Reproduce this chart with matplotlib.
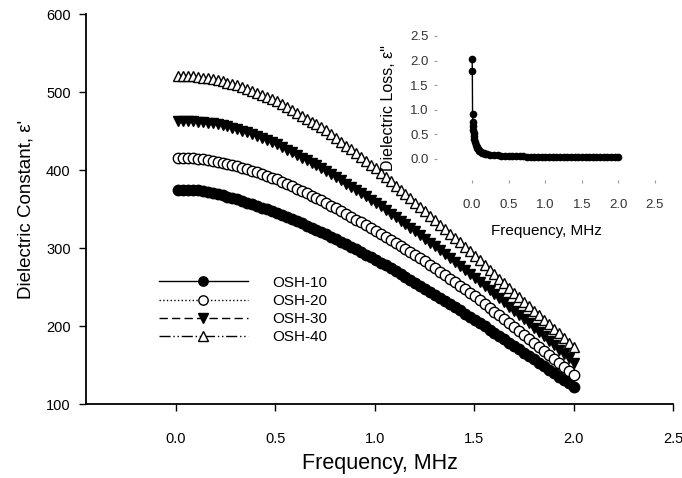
import numpy as np
import matplotlib
matplotlib.use('Agg')
import matplotlib.pyplot as plt

plt.rcParams['font.family'] = ['Liberation Sans', 'DejaVu Sans']

# ------- main plot data (frequency in MHz, dielectric constant) -------
freq = np.linspace(0.01, 2.0, 81)

osh10 = [375.0, 375.0, 374.8, 374.4, 373.8, 373.0, 372.0, 370.8, 369.4, 367.8, 366.0,
         364.2, 362.3, 360.3, 358.3, 356.2, 354.1, 351.9, 349.6, 347.3, 345.0,
         342.3, 339.6, 336.9, 334.2, 331.5, 328.8, 326.1, 323.4, 320.7, 318.0,
         314.7, 311.4, 308.1, 304.8, 301.5, 298.2, 294.9, 291.6, 288.3, 285.0,
         281.3, 277.6, 273.9, 270.2, 266.5, 262.8, 259.1, 255.4, 251.7, 248.0,
         244.0, 240.0, 236.0, 232.0, 228.0, 224.0, 220.0, 216.0, 212.0, 208.0,
         203.8, 199.6, 195.4, 191.2, 187.0, 182.8, 178.6, 174.4, 170.2, 166.0,
         161.6, 157.2, 152.8, 148.4, 144.0, 139.6, 135.2, 130.8, 126.4, 122.0]

osh20 = [416.0, 415.9, 415.6, 415.2, 414.6, 413.8, 412.8, 411.7, 410.5, 409.3, 408.0,
         406.5, 404.8, 403.0, 401.1, 399.1, 397.0, 394.8, 392.6, 390.3, 388.0,
         385.0, 382.0, 379.0, 376.0, 373.0, 370.0, 367.0, 364.0, 361.0, 358.0,
         354.4, 350.8, 347.2, 343.6, 340.0, 336.4, 332.8, 329.2, 325.6, 322.0,
         318.1, 314.2, 310.3, 306.4, 302.5, 298.6, 294.7, 290.8, 286.9, 283.0,
         278.5, 274.0, 269.5, 265.0, 260.5, 256.0, 251.5, 247.0, 242.5, 238.0,
         233.1, 228.2, 223.3, 218.4, 213.5, 208.6, 203.7, 198.8, 193.9, 189.0,
         183.8, 178.6, 173.4, 168.2, 163.0, 157.8, 152.6, 147.4, 142.2, 137.0]

osh30 = [463.0, 462.9, 462.7, 462.4, 462.0, 461.4, 460.6, 459.7, 458.6, 457.4, 456.0,
         454.4, 452.6, 450.6, 448.5, 446.2, 443.8, 441.3, 438.6, 435.8, 433.0,
         429.6, 426.2, 422.8, 419.4, 416.0, 412.6, 409.2, 405.8, 402.4, 399.0,
         394.9, 390.8, 386.7, 382.6, 378.5, 374.4, 370.3, 366.2, 362.1, 358.0,
         353.4, 348.8, 344.2, 339.6, 335.0, 330.4, 325.8, 321.2, 316.6, 312.0,
         307.0, 302.0, 297.0, 292.0, 287.0, 282.0, 277.0, 272.0, 267.0, 262.0,
         256.7, 251.4, 246.1, 240.8, 235.5, 230.2, 224.9, 219.6, 214.3, 209.0,
         203.4, 197.8, 192.2, 186.6, 181.0, 175.4, 169.8, 164.2, 158.6, 153.0]

osh40 = [521.0, 520.8, 520.4, 519.9, 519.2, 518.4, 517.4, 516.2, 514.9, 513.5, 512.0,
         510.3, 508.4, 506.3, 504.1, 501.7, 499.2, 496.5, 493.7, 490.9, 488.0,
         484.3, 480.6, 476.9, 473.2, 469.5, 465.8, 462.1, 458.4, 454.7, 451.0,
         446.1, 441.2, 436.3, 431.4, 426.5, 421.6, 416.7, 411.8, 406.9, 402.0,
         396.5, 391.0, 385.5, 380.0, 374.5, 369.0, 363.5, 358.0, 352.5, 347.0,
         341.3, 335.6, 329.9, 324.2, 318.5, 312.8, 307.1, 301.4, 295.7, 290.0,
         284.1, 278.2, 272.3, 266.4, 260.5, 254.6, 248.7, 242.8, 236.9, 231.0,
         225.2, 219.4, 213.6, 207.8, 202.0, 196.2, 190.4, 184.6, 178.8, 173.0]

labels = ['OSH-10', 'OSH-20', 'OSH-30', 'OSH-40']

# ------- inset data (dielectric loss) -------
loss_freq = [0.0, 0.003, 0.006, 0.009, 0.012, 0.015, 0.02, 0.025, 0.03, 0.04, 0.05,
             0.06, 0.07, 0.08, 0.09, 0.10, 0.12, 0.14, 0.16, 0.18, 0.20, 0.25,
             0.30, 0.35, 0.40, 0.45, 0.50, 0.55, 0.60, 0.65, 0.70, 0.75, 0.80,
             0.85, 0.90, 0.95, 1.00, 1.05, 1.10, 1.15, 1.20, 1.25, 1.30, 1.35,
             1.40, 1.45, 1.50, 1.55, 1.60, 1.65, 1.70, 1.75, 1.80, 1.85, 1.90,
             1.95, 2.00]
loss = [2.03, 1.78, 0.92, 0.75, 0.66, 0.59, 0.52, 0.46, 0.41, 0.34, 0.29,
        0.25, 0.22, 0.20, 0.18, 0.165, 0.14, 0.125, 0.11, 0.10, 0.095, 0.085,
        0.075, 0.07, 0.065, 0.06, 0.058, 0.055, 0.053, 0.051, 0.05, 0.048, 0.047,
        0.046, 0.045, 0.044, 0.043, 0.042, 0.041, 0.040, 0.039, 0.038, 0.037, 0.037,
        0.036, 0.035, 0.035, 0.034, 0.034, 0.033, 0.033, 0.032, 0.032, 0.031, 0.031,
        0.030, 0.030]

W, H = 682, 478
fig = plt.figure(figsize=(W / 100, H / 100), dpi=100)

# ------- main axes -------
ax = fig.add_axes([86 / W, 1 - 404 / H, (673 - 86) / W, (404 - 14) / H])
styles = [
    dict(ls='-', marker='o', mfc='black'),
    dict(ls=':', marker='o', mfc='white'),
    dict(ls=(0, (6, 3)), marker='v', mfc='black'),
    dict(ls=(0, (8, 2, 1, 2, 1, 2)), marker='^', mfc='white'),
]
series = [osh10, osh20, osh30, osh40]
for y, lab, st in zip(series, labels, styles):
    ax.plot(freq, y, color='black', lw=1, ms=7.5, mec='black', mew=1.0,
            label=lab, **st)

ax.set_xlim(-0.453, 2.5)
ax.set_ylim(100, 600)
ax.set_xticks([0.0, 0.5, 1.0, 1.5, 2.0, 2.5])
ax.set_xticklabels(['0.0', '0.5', '1.0', '1.5', '2.0', '2.5'])
ax.set_yticks([100, 200, 300, 400, 500, 600])
ax.spines['top'].set_visible(False)
ax.spines['right'].set_visible(False)
ax.spines['left'].set_linewidth(1.3)
ax.spines['bottom'].set_linewidth(1.3)
ax.tick_params(axis='x', direction='out', length=5, width=1, labelsize=10.5, pad=15)
ax.tick_params(axis='y', direction='out', length=5, width=1, labelsize=10.5, pad=6)
ax.set_xlabel('Frequency, MHz', fontsize=15.5, labelpad=5)
ax.set_ylabel("Dielectric Constant, ε'", fontsize=13.5, labelpad=8)

ax.legend(loc='center left', bbox_to_anchor=(159 / W, 1 - 310 / H),
          bbox_transform=fig.transFigure, frameon=False, fontsize=11,
          handlelength=5.8, handletextpad=1.6, labelspacing=0.28,
          borderpad=0, borderaxespad=0, markerscale=0.9)

# ------- inset -------
ins = fig.add_axes([437 / W, 1 - 180 / H, (655 - 437) / W, (180 - 36) / H])
ins.plot(loss_freq, loss, color='black', lw=1, marker='o', ms=4.5,
         mfc='black', mec='black')
ins.set_xlim(-0.48, 2.5)
ins.set_ylim(-0.43, 2.5)
ins.set_xticks([0.0, 0.5, 1.0, 1.5, 2.0, 2.5])
ins.set_xticklabels(['0.0', '0.5', '1.0', '1.5', '2.0', '2.5'])
ins.set_yticks([0.0, 0.5, 1.0, 1.5, 2.0, 2.5])
ins.set_yticklabels(['0.0', '0.5', '1.0', '1.5', '2.0', '2.5'])
for s in ins.spines.values():
    s.set_visible(False)
ins.patch.set_alpha(0)
ins.tick_params(direction='out', length=2, width=0.8, color='#999999',
                labelsize=9.5, labelcolor='#333333', pad=4)
ins.tick_params(axis='x', pad=12)
ins.set_xlabel('Frequency, MHz', fontsize=11, labelpad=9)
ins.set_ylabel('Dielectric Loss, ε"', fontsize=11.5, labelpad=10)

fig.savefig('out.png', dpi=100)
